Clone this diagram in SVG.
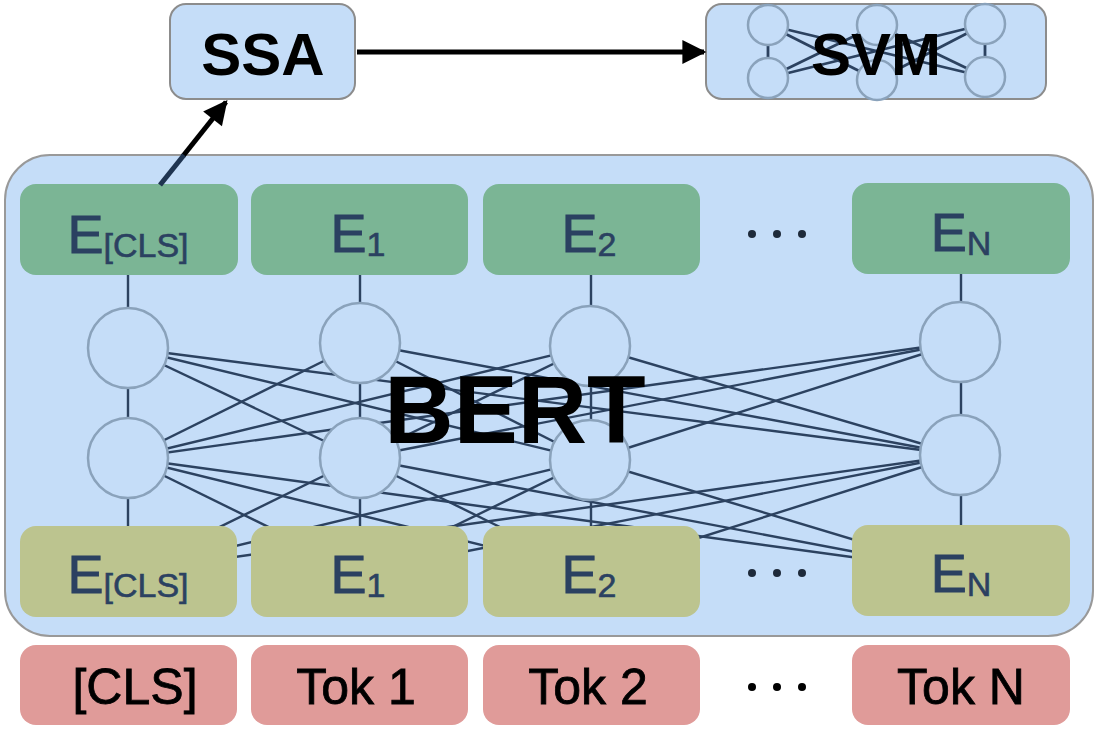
<svg xmlns="http://www.w3.org/2000/svg" width="1102" height="737" viewBox="0 0 1102 737">
<defs>
<marker id="ah" viewBox="0 0 10 10" refX="9" refY="5" markerWidth="5.2" markerHeight="4.8" markerUnits="strokeWidth" orient="auto">
<path d="M0,0 L10,5 L0,10 z" fill="#000"/>
</marker>
</defs>
<style>
.top{fill:#c5ddf8;stroke:#8c8c8c;stroke-width:2}
.bert{fill:#c5ddf8;stroke:#999;stroke-width:2}
.g{fill:#7bb595}
.o{fill:#bcc48f}
.r{fill:#e09b99}
.cir{fill:#c5ddf8;stroke:#8aa2bb;stroke-width:2.5}
.scir{fill:#c5ddf8;stroke:#8aa2bb;stroke-width:2.5}
.ln{stroke:#2c4260;stroke-width:2.4;fill:none}
.sln{stroke:#2c4260;stroke-width:2.8;fill:none}
.e{font-family:"Liberation Sans",Arial,sans-serif;font-size:54px;fill:#2b4161;stroke:#2b4161;stroke-width:0.9;text-anchor:middle}
.sub{font-size:34px;stroke-width:0.6}
.tok{font-family:"Liberation Sans",Arial,sans-serif;font-size:50px;fill:#000;stroke:#000;stroke-width:0.8;text-anchor:middle}
.big{font-family:"Liberation Sans",Arial,sans-serif;font-weight:bold;fill:#000;text-anchor:middle}
.arr{stroke:#000;stroke-width:5;fill:none}
.dot{fill:#1e2a3a}
</style>

<g id="bert">
<rect class="bert" x="5" y="155" width="1088" height="481" rx="45"/>
</g>

<g id="connectors">
<line class="ln" x1="128" y1="230" x2="128" y2="572"/>
<line class="ln" x1="360" y1="230" x2="360" y2="572"/>
<line class="ln" x1="591" y1="230" x2="591" y2="572"/>
<line class="ln" x1="961" y1="230" x2="961" y2="572"/>
<line class="ln" x1="128" y1="458" x2="360" y2="343"/>
<line class="ln" x1="128" y1="458" x2="590" y2="346"/>
<line class="ln" x1="128" y1="458" x2="960" y2="342"/>
<line class="ln" x1="360" y1="458" x2="128" y2="348"/>
<line class="ln" x1="360" y1="458" x2="590" y2="346"/>
<line class="ln" x1="360" y1="458" x2="960" y2="342"/>
<line class="ln" x1="590" y1="460" x2="128" y2="348"/>
<line class="ln" x1="590" y1="460" x2="360" y2="343"/>
<line class="ln" x1="590" y1="460" x2="960" y2="342"/>
<line class="ln" x1="960" y1="455" x2="128" y2="348"/>
<line class="ln" x1="960" y1="455" x2="360" y2="343"/>
<line class="ln" x1="960" y1="455" x2="590" y2="346"/>
<line class="ln" x1="128" y1="572" x2="360" y2="458"/>
<line class="ln" x1="128" y1="572" x2="590" y2="460"/>
<line class="ln" x1="128" y1="572" x2="960" y2="455"/>
<line class="ln" x1="360" y1="572" x2="128" y2="458"/>
<line class="ln" x1="360" y1="572" x2="590" y2="460"/>
<line class="ln" x1="360" y1="572" x2="960" y2="455"/>
<line class="ln" x1="591" y1="572" x2="128" y2="458"/>
<line class="ln" x1="591" y1="572" x2="360" y2="458"/>
<line class="ln" x1="591" y1="572" x2="960" y2="455"/>
<line class="ln" x1="961" y1="572" x2="128" y2="458"/>
<line class="ln" x1="961" y1="572" x2="360" y2="458"/>
<line class="ln" x1="961" y1="572" x2="590" y2="460"/>
</g>

<g id="trm">
<circle class="cir" cx="128" cy="348" r="40"/>
<circle class="cir" cx="360" cy="343" r="40"/>
<circle class="cir" cx="590" cy="346" r="40"/>
<circle class="cir" cx="960" cy="342" r="40"/>
<circle class="cir" cx="128" cy="458" r="40"/>
<circle class="cir" cx="360" cy="458" r="40"/>
<circle class="cir" cx="590" cy="460" r="40"/>
<circle class="cir" cx="960" cy="455" r="40"/>
</g>

<g id="out-cls"><rect class="g" x="20" y="184" width="218" height="91" rx="16"/><text class="e" x="128" y="253">E<tspan class="sub" dy="4">[CLS]</tspan></text></g>
<g id="out-1"><rect class="g" x="251" y="184" width="217" height="91" rx="16"/><text class="e" x="358" y="252">E<tspan class="sub" dy="4">1</tspan></text></g>
<g id="out-2"><rect class="g" x="483" y="184" width="217" height="91" rx="16"/><text class="e" x="589" y="252">E<tspan class="sub" dy="4">2</tspan></text></g>
<g id="out-n"><rect class="g" x="852" y="183" width="218" height="91" rx="16"/><text class="e" x="961" y="251">E<tspan class="sub" dy="4">N</tspan></text></g>

<g id="in-cls"><rect class="o" x="20" y="526" width="217" height="91" rx="16"/><text class="e" x="128" y="593">E<tspan class="sub" dy="4">[CLS]</tspan></text></g>
<g id="in-1"><rect class="o" x="251" y="526" width="217" height="91" rx="16"/><text class="e" x="358" y="593">E<tspan class="sub" dy="4">1</tspan></text></g>
<g id="in-2"><rect class="o" x="483" y="526" width="217" height="91" rx="16"/><text class="e" x="589" y="593">E<tspan class="sub" dy="4">2</tspan></text></g>
<g id="in-n"><rect class="o" x="852" y="525" width="218" height="91" rx="16"/><text class="e" x="961" y="592">E<tspan class="sub" dy="4">N</tspan></text></g>

<g id="bert-label"><text class="big" x="515" y="443" font-size="96">BERT</text></g>

<g id="tok-cls"><rect class="r" x="20" y="645" width="217" height="80" rx="16"/><text class="tok" x="135" y="704">[CLS]</text></g>
<g id="tok-1"><rect class="r" x="251" y="645" width="217" height="80" rx="16"/><text class="tok" x="356" y="704">Tok 1</text></g>
<g id="tok-2"><rect class="r" x="483" y="645" width="217" height="80" rx="16"/><text class="tok" x="588" y="704">Tok 2</text></g>
<g id="tok-n"><rect class="r" x="852" y="645" width="218" height="80" rx="16"/><text class="tok" x="961" y="704">Tok N</text></g>

<g id="ellipses">
<circle class="dot" cx="752" cy="234" r="4"/><circle class="dot" cx="777" cy="234" r="4"/><circle class="dot" cx="802" cy="234" r="4"/>
<circle class="dot" cx="752" cy="573" r="4"/><circle class="dot" cx="777" cy="573" r="4"/><circle class="dot" cx="802" cy="573" r="4"/>
<circle cx="752" cy="687" r="4" fill="#000"/><circle cx="777" cy="687" r="4" fill="#000"/><circle cx="802" cy="687" r="4" fill="#000"/>
</g>

<g id="ssa">
<rect class="top" x="170" y="4" width="185" height="95" rx="16"/>
<text class="big" x="263" y="75" font-size="60">SSA</text>
</g>

<g id="svm">
<rect class="top" x="706" y="4" width="340" height="95" rx="16"/>
<g class="sln">
<line x1="768" y1="25" x2="768" y2="78"/>
<line x1="985" y1="24" x2="985" y2="77"/>
<line x1="768" y1="25" x2="877" y2="80"/>
<line x1="768" y1="78" x2="877" y2="25"/>
<line x1="877" y1="25" x2="985" y2="77"/>
<line x1="877" y1="80" x2="985" y2="24"/>
<line x1="768" y1="25" x2="985" y2="77"/>
<line x1="768" y1="78" x2="985" y2="24"/>
</g>
<circle class="scir" cx="768" cy="25" r="20"/>
<circle class="scir" cx="768" cy="78" r="20"/>
<circle class="scir" cx="877" cy="25" r="20"/>
<circle class="scir" cx="877" cy="80" r="20"/>
<circle class="scir" cx="985" cy="24" r="20"/>
<circle class="scir" cx="985" cy="77" r="20"/>
<text class="big" x="876" y="75" font-size="60">SVM</text>
</g>

<g id="arrows">
<line class="arr" x1="357" y1="52" x2="704" y2="52" marker-end="url(#ah)"/>
<line class="arr" x1="183" y1="156" x2="226" y2="102" marker-end="url(#ah)"/>
<line x1="160" y1="185" x2="184" y2="155" stroke="#1f3450" stroke-width="5"/>
</g>
</svg>
